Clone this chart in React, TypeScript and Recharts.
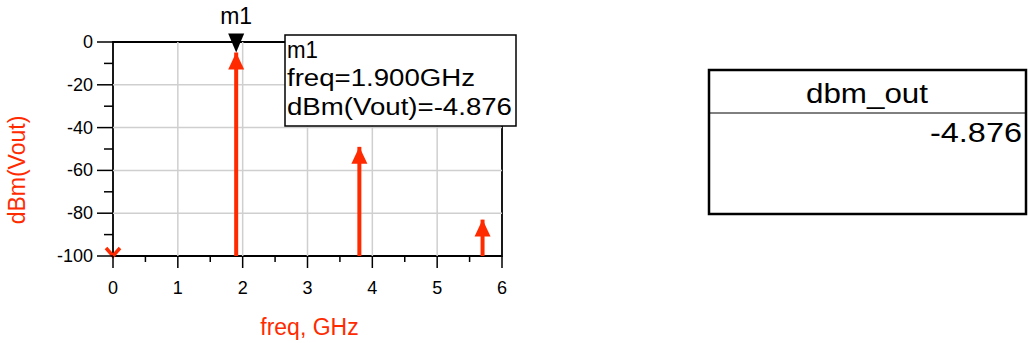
import { ComposedChart, XAxis, YAxis, ReferenceLine, ReferenceDot, ReferenceArea, Label } from 'recharts'

const freqGHz = [0, 1.9, 3.8, 5.7]
const dbmVout = [-110, -4.876, -49, -83]
const xTicks = [0, 0.5, 1, 1.5, 2, 2.5, 3, 3.5, 4, 4.5, 5, 5.5, 6]
const yTicks = [-100, -90, -80, -70, -60, -50, -40, -30, -20, -10, 0]
const xGrid = [1, 2, 3, 4, 5]
const yGrid = [-80, -60, -40, -20]
const markerIndex = 1
const markerName = 'm1'
const tableTitle = 'dbm_out'

const RED = '#ff2a00'
const FONT = '"Liberation Sans", Arial, sans-serif'
const Y_MIN = -100

const rows = freqGHz.map((f, i) => ({ freq: f, dbm: dbmVout[i] }))

function XTick(props: any) {
  const { x, y, payload } = props
  const major = Number.isInteger(payload.value)
  return (
    <g>
      <line x1={x} x2={x} y1={y} y2={y + (major ? 12 : 6)} stroke="#000" strokeWidth={1.5} />
      {major && (
        <text x={x} y={y + 38} textAnchor="middle" fontSize={18} fontFamily={FONT} fill="#000">
          {payload.value}
        </text>
      )}
    </g>
  )
}

function YTick(props: any) {
  const { x, y, payload } = props
  const major = payload.value % 20 === 0
  return (
    <g>
      <line x1={x - (major ? 16 : 9)} x2={x} y1={y} y2={y} stroke="#000" strokeWidth={1.5} />
      {major && (
        <text x={x - 20} y={y + 6} textAnchor="end" fontSize={18} fontFamily={FONT} fill="#000">
          {payload.value}
        </text>
      )}
    </g>
  )
}

function ArrowUp(props: any) {
  const { cx, cy } = props
  return <polygon points={`${cx},${cy} ${cx - 8},${cy + 17} ${cx + 8},${cy + 17}`} fill={RED} />
}

function ArrowDownClipped(props: any) {
  const { cx, cy } = props
  return (
    <polyline
      points={`${cx - 7},${cy - 8} ${cx},${cy} ${cx + 7},${cy - 8}`}
      fill="none"
      stroke={RED}
      strokeWidth={3.5}
    />
  )
}

function Marker(props: any) {
  const { cx, cy } = props
  return (
    <g>
      <polygon points={`${cx},${cy} ${cx - 8},${cy - 19} ${cx + 8},${cy - 19}`} fill="#000" />
      <text x={cx} y={cy - 28} textAnchor="middle" fontSize={23} fontFamily={FONT} fill="#000">
        {markerName}
      </text>
    </g>
  )
}

export default function App() {
  const mFreq = freqGHz[markerIndex]
  const mVal = dbmVout[markerIndex]
  return (
    <div style={{ position: 'absolute', left: 0, top: 0, width: 1028, height: 343, background: '#fff' }}>
      <ComposedChart width={1028} height={343} data={rows} margin={{ top: 42, right: 526, bottom: 0, left: 0 }}>
        <XAxis
          dataKey="freq"
          type="number"
          domain={[0, 6]}
          ticks={xTicks}
          interval={0}
          allowDataOverflow
          height={87}
          axisLine={false}
          tickLine={false}
          tickSize={0}
          tickMargin={0}
          tick={<XTick />}
        >
          <Label
            content={(p: any) => (
              <text
                x={p.viewBox.x + p.viewBox.width / 2 + 2}
                y={p.viewBox.y + 79}
                textAnchor="middle"
                fontSize={23}
                fontFamily={FONT}
                fill={RED}
              >
                freq, GHz
              </text>
            )}
          />
        </XAxis>
        <YAxis
          type="number"
          domain={[Y_MIN, 0]}
          ticks={yTicks}
          interval={0}
          allowDataOverflow
          width={113}
          axisLine={false}
          tickLine={false}
          tickSize={0}
          tickMargin={0}
          tick={<YTick />}
        >
          <Label
            content={() => (
              <text
                x={0}
                y={0}
                transform="translate(25,170) rotate(-90)"
                textAnchor="middle"
                fontSize={23}
                fontFamily={FONT}
                fill={RED}
              >
                dBm(Vout)
              </text>
            )}
          />
        </YAxis>
        {xGrid.map((g) => (
          <ReferenceLine key={'gx' + g} x={g} stroke="#cfcfcf" strokeWidth={1.5} />
        ))}
        {yGrid.map((g) => (
          <ReferenceLine key={'gy' + g} y={g} stroke="#cfcfcf" strokeWidth={1.5} />
        ))}
        <ReferenceArea x1={0} x2={6} y1={Y_MIN} y2={0} fill="none" stroke="#000" strokeWidth={1.8} fillOpacity={0} />
        {freqGHz.map((f, i) =>
          dbmVout[i] > Y_MIN ? (
            <ReferenceLine
              key={'s' + i}
              segment={[
                { x: f, y: Y_MIN },
                { x: f, y: dbmVout[i] },
              ]}
              stroke={RED}
              strokeWidth={4}
            />
          ) : null
        )}
        {freqGHz.map((f, i) =>
          dbmVout[i] > Y_MIN ? (
            <ReferenceDot key={'a' + i} x={f} y={dbmVout[i]} shape={<ArrowUp />} />
          ) : (
            <ReferenceDot key={'a' + i} x={f} y={Y_MIN} shape={<ArrowDownClipped />} />
          )
        )}
        <ReferenceDot x={mFreq} y={mVal} shape={<Marker />} />
      </ComposedChart>
      <svg width={1028} height={343} style={{ position: 'absolute', left: 0, top: 0, pointerEvents: 'none' }}>
        <g fontFamily={FONT} fill="#000">
          <rect x={285} y={35} width={231} height={91} fill="#fff" stroke="#000" strokeWidth={1.5} />
          <text x={287} y={58} fontSize={23} textLength={31} lengthAdjust="spacingAndGlyphs">
            {markerName}
          </text>
          <text x={287} y={86} fontSize={23} textLength={188} lengthAdjust="spacingAndGlyphs">
            {`freq=${mFreq.toFixed(3)}GHz`}
          </text>
          <text x={287} y={115} fontSize={23} textLength={225} lengthAdjust="spacingAndGlyphs">
            {`dBm(Vout)=${mVal.toFixed(3)}`}
          </text>
          <rect x={709} y={70} width={317} height={144} fill="#fff" stroke="#000" strokeWidth={2.5} />
          <line x1={709} x2={1026} y1={113} y2={113} stroke="#000" strokeWidth={1} />
          <text x={867} y={103} textAnchor="middle" fontSize={27} textLength={122} lengthAdjust="spacingAndGlyphs">
            {tableTitle}
          </text>
          <text x={1022} y={142} textAnchor="end" fontSize={28} textLength={92} lengthAdjust="spacingAndGlyphs">
            {mVal.toFixed(3)}
          </text>
        </g>
      </svg>
    </div>
  )
}
